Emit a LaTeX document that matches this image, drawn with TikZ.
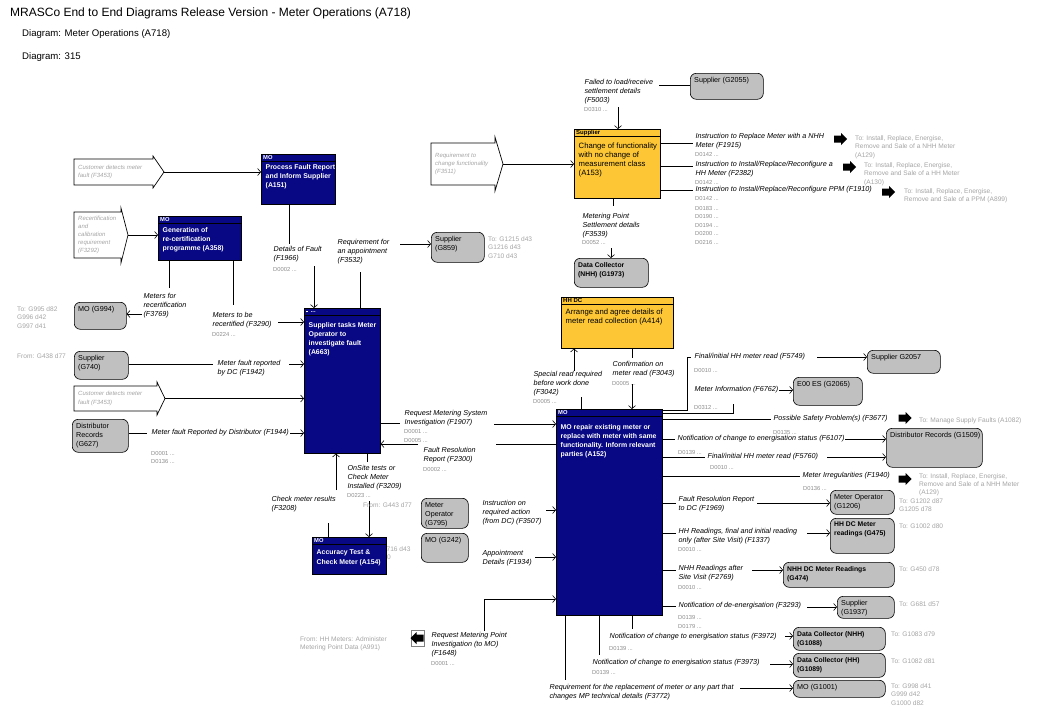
\documentclass[tikz,border=0pt]{standalone}
\usepackage{fontspec}
\setmainfont{Liberation Sans}
\usetikzlibrary{arrows.meta}
\definecolor{navy}{RGB}{8,8,132}
\definecolor{gold}{RGB}{252,198,52}
\definecolor{boxgray}{RGB}{192,192,192}
\definecolor{notegray}{RGB}{165,165,165}
\definecolor{idgray}{RGB}{140,140,140}

% process box: style prefix, name, x, y, w, h, header, body, body offset
\newcommand\proc[9]{%
  \node[procb,#1box,minimum width=#5pt,minimum height=#6pt] (#2) at (#3,#4) {};
  \draw[line width=0.6pt] ([yshift=-7pt]#2.north west) -- ([yshift=-7pt]#2.north east);
  \node[#1hdr] (#2-h) at ([xshift=2pt,yshift=-3.6pt]#2.north west) {#7};
  \node[#1body] (#2-b) at ([xshift=4.5pt,yshift=-#9pt]#2.north west) {#8};
}
% grey rounded box: name, x, y, w, h, text, font style
\newcommand\gb[7]{%
  \node[gbox,minimum width=#4pt,minimum height=#5pt] (#1) at (#2,#3) {};
  \node[gtext,#7] (#1-t) at ([xshift=4pt,yshift=-4pt]#1.north west) {#6};
}
% input block arrow: name, x1, x2, ytop, ybot, headtop, headbot, xtip, text
\newcommand\inarr[9]{%
  \draw[line width=0.7pt,fill=white] (#2,#4) -- (#3,#4) -- (#3,#6) -- (#8,{(#4+#5)/2}) -- (#3,#7) -- (#3,#5) -- (#2,#5) -- cycle;
  \coordinate (#1) at (#8,{(#4+#5)/2});
  \node[intext] (#1-t) at (#2+4,{(#4+#5)/2}) {#9};
}
% fat black arrow pointing right, centred at (x,y)
\newcommand\fatr[2]{\fill (#1-6.5,#2-3.5) -- (#1+0.5,#2-3.5) -- (#1+0.5,#2-6) -- (#1+6.5,#2) -- (#1+0.5,#2+6) -- (#1+0.5,#2+3.5) -- (#1-6.5,#2+3.5) -- cycle;}

\begin{document}
\begin{tikzpicture}[x=1pt,y=-1pt,
  conn/.style={line width=0.6pt},
  arr/.style={line width=0.6pt,-{Straight Barb[length=3pt,width=7pt]}},
  lab/.style={anchor=north west,inner sep=0.4pt,fill=white,align=left,yshift=3.9pt,font=\fontsize{7.2}{8.8}\selectfont\itshape},
  ids/.style={anchor=west,inner sep=0pt,font=\fontsize{5.8}{6}\selectfont,text=idgray},
  note/.style={anchor=north west,inner sep=0pt,align=left,yshift=3.5pt,font=\fontsize{6.6}{8.4}\selectfont,text=notegray},
  intext/.style={anchor=west,inner sep=0pt,align=left,font=\fontsize{6}{8.2}\selectfont\itshape,text=notegray},
  procb/.style={draw=black,line width=0.6pt,anchor=north west,inner sep=0pt},
  blubox/.style={fill=navy},
  bluhdr/.style={anchor=west,inner sep=0pt,text=white,font=\fontsize{5.8}{6}\selectfont\bfseries},
  blubody/.style={anchor=north west,inner sep=0pt,align=left,text=white,font=\fontsize{6.9}{9.2}\selectfont\bfseries},
  golbox/.style={fill=gold},
  golhdr/.style={anchor=west,inner sep=0pt,text=black,font=\fontsize{6}{6}\selectfont\bfseries},
  golbody/.style={anchor=north west,inner sep=0pt,align=left,text=black,font=\fontsize{7.7}{9}\selectfont},
  gbox/.style={draw=black,fill=boxgray,rounded corners=6pt,anchor=north west,inner sep=0pt,line width=0.6pt},
  gtext/.style={anchor=north west,inner sep=0pt,align=left},
  gbold/.style={font=\fontsize{6.8}{9}\selectfont\bfseries},
  gnorm/.style={font=\fontsize{7.2}{9}\selectfont},
]
\fill[white] (0,0) rectangle (1040,720);
\path[use as bounding box] (0,0) rectangle (1040,720);

% titles
\node[anchor=west,inner sep=0pt,font=\fontsize{12}{14}\selectfont] (title) at (10,13) {MRASCo End to End Diagrams Release Version - Meter Operations (A718)};
\node[anchor=west,inner sep=0pt,font=\fontsize{9.6}{11}\selectfont] (dg1) at (22,34) {Diagram: Meter Operations (A718)};
\node[anchor=west,inner sep=0pt,font=\fontsize{9.6}{11}\selectfont] (dg2) at (22,57) {Diagram: 315};

% hidden note behind A154
\node[note] (n716) at (370,550) {To: G716 d43};
\node[note] (n716b) at (387,558) {0};

% process boxes
\proc{blu}{A151}{261}{154}{74}{50}{MO}{Process Fault Report\\and Inform Supplier\\(A151)}{10}
\proc{blu}{A358}{158}{216}{83}{44}{MO}{Generation of\\re-certification\\programme (A358)}{11}
\proc{blu}{A663}{304}{308}{76}{145}{\rule{1.6pt}{1.6pt}\hspace{3pt}...}{Supplier tasks Meter\\Operator to\\investigate fault\\(A663)}{14}
\proc{blu}{A154}{312}{537}{74}{37}{MO}{Accuracy Test \&\\Check Meter (A154)}{13}
\proc{blu}{A152}{556}{409}{106}{206}{MO}{MO repair existing meter or\\replace with meter with same\\functionality. Inform relevant\\parties (A152)}{15}
\proc{gol}{A153}{574}{129}{86}{69}{Supplier}{Change of functionality\\with no change of\\measurement class\\(A153)}{14}
\proc{gol}{A414}{561}{297}{112}{51}{HH DC}{Arrange and agree details of\\meter read collection (A414)}{12}

% grey boxes
\gb{G2055}{690}{73}{73}{26}{Supplier (G2055)}{gnorm}
\gb{G859}{431}{232}{53}{30}{Supplier\\(G859)}{gnorm}
\gb{G1973}{574}{258}{74}{29}{Data Collector\\(NHH) (G1973)}{gbold}
\gb{G994}{74}{302}{52}{27}{MO (G994)}{gnorm}
\gb{G740}{74}{351}{54}{28}{Supplier\\(G740)}{gnorm}
\gb{G627}{72}{419}{56}{33}{Distributor\\Records\\(G627)}{gnorm}
\gb{G795}{421}{498}{47}{30}{Meter\\Operator\\(G795)}{gnorm}
\gb{G242}{421}{533}{47}{29}{MO (G242)}{gnorm}
\gb{G2057}{867}{350}{73}{23}{Supplier G2057}{gnorm}
\gb{G2065}{793}{377}{69}{28}{E00 ES (G2065)}{gnorm}
\gb{G1509}{886}{428}{96}{39}{Distributor Records (G1509)}{gnorm}
\gb{G1206}{830}{490}{64}{24}{Meter Operator\\(G1206)}{gnorm}
\gb{G475}{830}{518}{64}{35}{HH DC Meter\\readings (G475)}{gbold}
\gb{G474}{783}{562}{111}{25}{NHH DC Meter Readings\\(G474)}{gbold}
\gb{G1937}{837}{596}{57}{22}{Supplier\\(G1937)}{gnorm}
\gb{G1088}{793}{627}{92}{23}{Data Collector (NHH)\\(G1088)}{gbold}
\gb{G1089}{793}{653}{92}{24}{Data Collector (HH)\\(G1089)}{gbold}
\gb{G1001}{793}{680}{92}{17}{MO (G1001)}{gnorm}

% input arrows
\inarr{S1}{74}{153}{159}{185}{156}{188}{164}{Customer detects meter\\fault (F3453)}
\inarr{S2}{74}{121}{212}{258}{208}{263}{128}{Recertification\\and\\calibration\\requirement\\(F3292)}
\inarr{S3}{74}{157}{386}{411}{382}{415}{165}{Customer detects meter\\fault (F3453)}
\inarr{S4}{431}{495}{143}{185}{137}{191}{503}{Requirement to\\change functionality\\(F3511)}

% fat arrows
\fatr{840.5}{139}
\fatr{849.5}{167}
\fatr{888.5}{192}
\fatr{905}{418}
\fatr{905}{479}
\draw[line width=0.5pt,draw=gray,fill=white] (411,630) rectangle (424,646);
\fill (423.5,634.5) -- (416.5,634.5) -- (416.5,632) -- (410.5,638) -- (416.5,644) -- (416.5,641.5) -- (423.5,641.5) -- cycle;

% connectors
\draw[arr] (S1) -- (S1 -| A151.west);
\draw[arr] (S2) -- (S2 -| A358.west);
\draw[arr] (S3) -- (S3 -| A663.west);
\draw[arr] (S4) -- (S4 -| A153.west);
\draw[conn] (289,0 |- A151.south) -- (289,244);
\draw[arr] (314,266) -- (314,0 |- A663.north);
\draw[conn] (360,0 |- A663.north) -- (360,272);
\draw[arr] (400,244) -- (G859.west |- 0,244);
\draw[conn] (169,0 |- A358.south) -- (169,288);
\draw[arr] (142,314) -- (G994.east |- 0,314);
\draw[conn] (233,0 |- A358.south) -- (233,305);
\draw[arr] (278,322) -- (A663.west |- 0,322);
\draw[conn] (G740.east |- 0,364) -- (213,364);
\draw[arr] (289,364) -- (A663.west |- 0,364);
\draw[conn] (G627.east |- 0,433) -- (147,433);
\draw[arr] (290,433) -- (A663.west |- 0,433);
\draw[conn] (A663.east |- 0,423) -- (400,423);
\draw[arr] (494,424) -- (A152.west |- 0,424);
\draw[conn] (A152.west |- 0,444) -- (496,444);
\draw[arr] (418,444) -- (A663.east |- 0,444);
\draw[conn] (367,0 |- A663.south) -- (367,462);
\draw[arr] (369,501) -- (369,0 |- A154.north);
\draw[conn] (328,0 |- A154.north) -- (328,523);
\draw[arr] (336,490) -- (336,0 |- A663.south);
\draw[arr] (546,510) -- (A152.west |- 0,510);
\draw[arr] (535,557) -- (A152.west |- 0,557);
\draw[arr] (484,631) -- (484,599) -- (A152.west |- 0,599);
\draw[conn] (581,0 |- A152.north) -- (581,397);
\draw[arr] (574,372) -- (574,0 |- A414.south);
\draw[conn] (632,0 |- A414.south) -- (632,358);
\draw[arr] (632,384) -- (632,0 |- A152.north);
\draw[conn] (G2055.west |- 0,85) -- (659,85);
\draw[arr] (618,107) -- (618,0 |- A153.north);
\draw[conn] (A153.east |- 0,143) -- (693,143);
\draw[conn] (A153.east |- 0,166) -- (693,166);
\draw[conn] (A153.east |- 0,190) -- (693,190);
\draw[conn] (613,0 |- A153.south) -- (613,206);
\draw[arr] (611,248) -- (611,0 |- G1973.north);
\draw[conn] (A152.east |- 0,410) -- (687,410) -- (687,357) -- (691,357);
\draw[arr] (817,357) -- (G2057.west |- 0,357);
\draw[conn] (A152.east |- 0,413) -- (733,413) -- (733,404);
\draw[arr] (773,390) -- (G2065.west |- 0,390);
\draw[conn] (A152.east |- 0,419) -- (771,419);
\draw[conn] (A152.east |- 0,439) -- (675,439);
\draw[arr] (837,439) -- (G1509.west |- 0,439);
\draw[conn] (A152.east |- 0,457) -- (705,457);
\draw[arr] (827,457) -- (G1509.west |- 0,457);
\draw[conn] (A152.east |- 0,476) -- (800,476);
\draw[conn] (A152.east |- 0,503) -- (676,503);
\draw[arr] (757,503) -- (G1206.west |- 0,503);
\draw[conn] (A152.east |- 0,533) -- (676,533);
\draw[arr] (807,533) -- (G475.west |- 0,533);
\draw[conn] (A152.east |- 0,570) -- (676,570);
\draw[arr] (752,570) -- (G474.west |- 0,570);
\draw[conn] (A152.east |- 0,606) -- (676,606);
\draw[arr] (807,607) -- (G1937.west |- 0,607);
\draw[conn] (632,0 |- A152.south) -- (632,629);
\draw[arr] (785,636) -- (G1088.west |- 0,636);
\draw[conn] (599,0 |- A152.south) -- (599,655);
\draw[arr] (770,664) -- (G1089.west |- 0,664);
\draw[conn] (565,0 |- A152.south) -- (565,680);
\draw[arr] (740,688) -- (G1001.west |- 0,688);

% labels
\node[lab] (L1) at (273,250) {Details of Fault\\(F1966)};
\node[ids] (L1d) at (273,269) {D0002 ...};
\node[lab] (L2) at (337,243) {Requirement for\\an appointment\\(F3532)};
\node[lab] (L3) at (143,297) {Meters for\\recertification\\(F3769)};
\node[lab] (L4) at (212,316) {Meters to be\\recertified (F3290)};
\node[ids] (L4d) at (212,334) {D0224 ...};
\node[lab] (L5) at (217,364) {Meter fault reported\\by DC (F1942)};
\node[lab] (L6) at (151,433) {Meter fault Reported by Distributor (F1944)};
\node[ids] (L6d1) at (151,453) {D0001 ...};
\node[ids] (L6d2) at (151,461) {D0136 ...};
\node[lab] (L7) at (404,414) {Request Metering System\\Investigation (F1907)};
\node[ids] (L7d1) at (404,431) {D0001 ...};
\node[ids] (L7d2) at (404,440) {D0005 ...};
\node[lab] (L8) at (423,451) {Fault Resolution\\Report (F2300)};
\node[ids] (L8d) at (423,469) {D0002 ...};
\node[lab] (L9) at (347,469) {OnSite tests or\\Check Meter\\Installed (F3209)};
\node[ids] (L9d) at (347,495) {D0223 ...};
\node[lab] (L10) at (271,500) {Check meter results\\(F3208)};
\node[lab] (L11) at (482,504) {Instruction on\\required action\\(from DC) (F3507)};
\node[lab] (L12) at (482,554) {Appointment\\Details (F1934)};
\node[lab] (L13) at (431,636) {Request Metering Point\\Investigation (to MO)\\(F1648)};
\node[ids] (L13d) at (431,663) {D0001 ...};
\node[lab] (L14) at (533,375) {Special read required\\before work done\\(F3042)};
\node[ids] (L14d) at (533,401) {D0005 ...};
\node[lab] (L15) at (612,365) {Confirmation on\\meter read (F3043)};
\node[ids] (L15d) at (612,383) {D0005 ...};
\node[lab] (L16) at (584,83) {Failed to load/receive\\settlement details\\(F5003)};
\node[ids] (L16d) at (584,110) {D0310 ...};
\node[lab] (L17) at (582,217) {Metering Point\\Settlement details\\(F3539)};
\node[ids] (L17d) at (582,242) {D0052 ...};
\node[lab] (L18) at (695,137) {Instruction to Replace Meter with a NHH\\Meter (F1915)};
\node[ids] (L18d) at (695,155) {D0142 ...};
\node[lab] (L19) at (695,165) {Instruction to Install/Replace/Reconfigure a\\HH Meter (F2382)};
\node[ids] (L19d) at (695,183) {D0142 ...};
\node[lab] (L20) at (695,190) {Instruction to Install/Replace/Reconfigure PPM (F1910)};
\node[ids] (L20a) at (695,199) {D0142 ...};
\node[ids] (L20b) at (695,208) {D0183 ...};
\node[ids] (L20c) at (695,216) {D0190 ...};
\node[ids] (L20e) at (695,225) {D0194 ...};
\node[ids] (L20f) at (695,233) {D0200 ...};
\node[ids] (L20g) at (695,242) {D0216 ...};
\node[lab] (L21) at (694,357) {Final/initial HH meter read (F5749)};
\node[ids] (L21d) at (694,370) {D0010 ...};
\node[lab] (L22) at (694,390) {Meter Information (F6762)};
\node[ids] (L22d) at (694,407) {D0312 ...};
\node[lab] (L23) at (773,419) {Possible Safety Problem(s) (F3677)};
\node[ids] (L23d) at (773,432) {D0135 ...};
\node[lab] (L24) at (677,439) {Notification of change to energisation status (F6107)};
\node[ids] (L24d) at (678,452) {D0139 ...};
\node[lab] (L25) at (707,457) {Final/initial HH meter read (F5760)};
\node[ids] (L25d) at (710,467) {D0010 ...};
\node[lab] (L26) at (802,476) {Meter Irregularities (F1940)};
\node[ids] (L26d) at (803,488) {D0136 ...};
\node[lab] (L27) at (678,500) {Fault Resolution Report\\to DC (F1969)};
\node[lab] (L28) at (678,532) {HH Readings, final and initial reading\\only (after Site Visit) (F1337)};
\node[ids] (L28d) at (678,549) {D0010 ...};
\node[lab] (L29) at (678,569) {NHH Readings after\\Site Visit (F2769)};
\node[ids] (L29d) at (678,587) {D0010 ...};
\node[lab] (L30) at (678,606) {Notification of de-energisation (F3293)};
\node[ids] (L30d1) at (678,617) {D0139 ...};
\node[ids] (L30d2) at (678,626) {D0179 ...};
\node[lab] (L31) at (609,637) {Notification of change to energisation status (F3972)};
\node[ids] (L31d) at (609,648) {D0139 ...};
\node[lab] (L32) at (592,663) {Notification of change to energisation status (F3973)};
\node[ids] (L32d) at (592,672) {D0139 ...};
\node[lab] (L33) at (549,688) {Requirement for the replacement of meter or any part that\\changes MP technical details (F3772)};

% notes
\node[note] (N1) at (488,240) {To: G1215 d43\\G1216 d43\\G710 d43};
\node[note] (N2) at (17,310) {To: G995 d82\\G996 d42\\G997 d41};
\node[note] (N3) at (17,357) {From: G438 d77};
\node[note] (N4) at (363,506) {From: G443 d77};
\node[note] (N6) at (300,640) {From: HH Meters: Administer\\Metering Point Data (A991)};
\node[note] (N7) at (855,139) {To: Install, Replace, Energise,\\Remove and Sale of a NHH Meter\\(A129)};
\node[note] (N8) at (864,166) {To: Install, Replace, Energise,\\Remove and Sale of a HH Meter\\(A130)};
\node[note] (N9) at (904,192) {To: Install, Replace, Energise,\\Remove and Sale of a PPM (A899)};
\node[note] (N10) at (919,421) {To: Manage Supply Faults (A1082)};
\node[note,font=\fontsize{6.6}{7.8}\selectfont] (N11) at (919,477) {To: Install, Replace, Energise,\\Remove and Sale of a NHH Meter\\(A129)};
\node[note] (N12) at (899,502) {To: G1202 d87\\G1205 d78};
\node[note] (N13) at (899,527) {To: G1002 d80};
\node[note] (N14) at (899,570) {To: G450 d78};
\node[note] (N15) at (899,605) {To: G681 d57};
\node[note] (N16) at (891,635) {To: G1083 d79};
\node[note] (N17) at (891,662) {To: G1082 d81};
\node[note] (N18) at (891,687) {To: G998 d41\\G999 d42\\G1000 d82};
\end{tikzpicture}
\end{document}
